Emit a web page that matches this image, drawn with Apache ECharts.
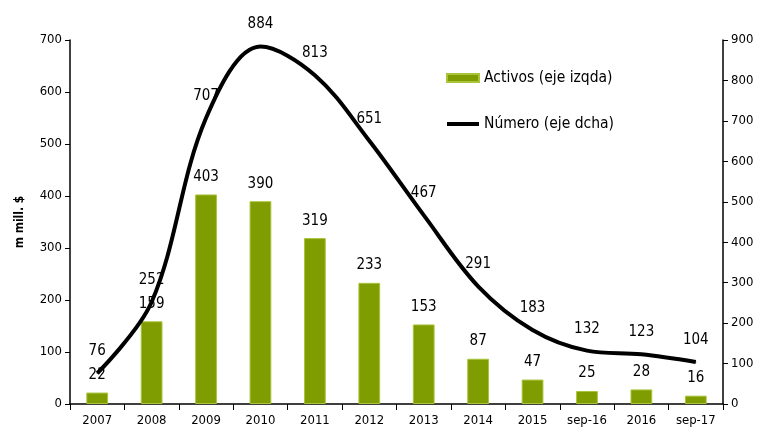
<!DOCTYPE html>
<html>
<head>
<meta charset="utf-8">
<script src="https://cdn.jsdelivr.net/npm/echarts@6/dist/echarts.min.js"></script>
<style>
  html, body { margin: 0; padding: 0; background: #fff; }
  #main { width: 763px; height: 433px; }
</style>
</head>
<body>
<div id="main"></div>
<script>
var categories = ['2007', '2008', '2009', '2010', '2011', '2012', '2013', '2014', '2015', 'sep-16', '2016', 'sep-17'];
var activos = [22, 159, 403, 390, 319, 233, 153, 87, 47, 25, 28, 16];
var numero = [76, 252, 707, 884, 813, 651, 467, 291, 183, 132, 123, 104];

var chartDom = document.getElementById('main');
var myChart = echarts.init(chartDom);
var font = 'DejaVu Sans Condensed';
var option;

option = {
  backgroundColor: '#fff',
  textStyle: { fontFamily: font },
  grid: { left: 70, right: 40, top: 40, bottom: 29 },
  legend: {
    orient: 'vertical',
    left: 440,
    top: 65,
    itemGap: 30,
    itemWidth: 32,
    itemHeight: 8,
    textStyle: { fontFamily: font, fontSize: 15.5, color: '#000' },
    data: [
      { name: 'Activos (eje izqda)', icon: 'rect' },
      { name: 'Número (eje dcha)', itemStyle: { opacity: 0 }, lineStyle: { width: 4, color: '#000' } }
    ]
  },
  xAxis: {
    type: 'category',
    data: categories,
    axisLine: { lineStyle: { color: '#000', width: 1.5 } },
    axisTick: { show: true, length: 6, lineStyle: { color: '#000' } },
    axisLabel: { color: '#000', fontSize: 13, fontFamily: font, margin: 10, interval: 0 }
  },
  yAxis: [
    {
      type: 'value',
      min: 0, max: 700, interval: 100,
      name: 'm mill. $',
      nameLocation: 'middle',
      nameGap: 44,
      nameTextStyle: { fontFamily: font, fontWeight: 'bold', fontSize: 12, color: '#000' },
      axisLine: { show: true, lineStyle: { color: '#000', width: 1.5 } },
      axisTick: { show: true, length: 5, lineStyle: { color: '#000' } },
      axisLabel: { color: '#000', fontSize: 13, fontFamily: font, margin: 8 },
      splitLine: { show: false }
    },
    {
      type: 'value',
      min: 0, max: 900, interval: 100,
      position: 'right',
      axisLine: { show: true, lineStyle: { color: '#000', width: 1.5 } },
      axisTick: { show: true, length: 5, lineStyle: { color: '#000' } },
      axisLabel: { color: '#000', fontSize: 13, fontFamily: font, margin: 8 },
      splitLine: { show: false }
    }
  ],
  series: [
    {
      name: 'Activos (eje izqda)',
      type: 'bar',
      yAxisIndex: 0,
      data: activos,
      barWidth: '40%',
      itemStyle: { color: '#7f9c00', borderColor: '#a8c43a', borderWidth: 1 },
      label: { show: true, position: 'top', distance: 10, color: '#000', fontSize: 15, fontFamily: font }
    },
    {
      name: 'Número (eje dcha)',
      type: 'line',
      yAxisIndex: 1,
      data: numero,
      smooth: 0.35,
      symbol: 'circle',
      symbolSize: 1,
      showSymbol: true,
      lineStyle: { color: '#000', width: 4 },
      itemStyle: { color: '#000' },
      label: { show: true, position: 'top', distance: 14, color: '#000', fontSize: 15, fontFamily: font },
      z: 5
    }
  ]
};

option && myChart.setOption(option);
</script>
</body>
</html>
